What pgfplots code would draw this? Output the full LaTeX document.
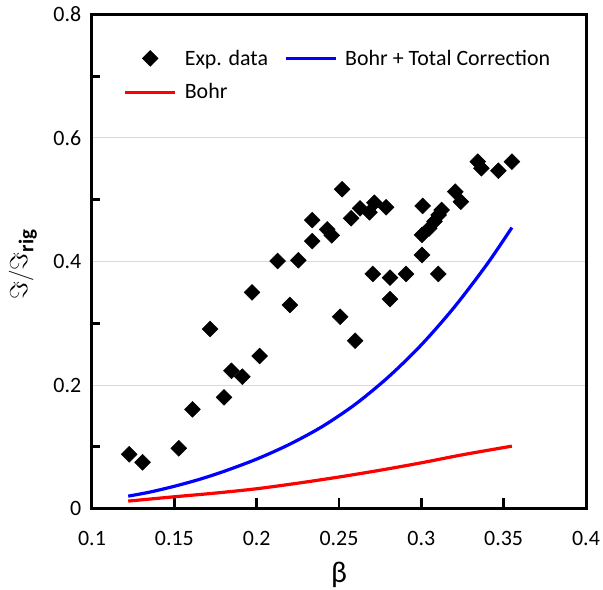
\documentclass[border=0pt]{standalone}
\usepackage{amsmath}
\usepackage{fontspec}
\setmainfont{Carlito}
\usepackage{pgfplots}
\pgfplotsset{compat=1.18}
\usetikzlibrary{calc}
\definecolor{gridgray}{RGB}{217,217,217}
\begin{document}
\begin{tikzpicture}
\begin{axis}[
  line width=3bp,
  scale only axis, width=494bp, height=494bp,
  xmin=0.1, xmax=0.4, ymin=0, ymax=0.8,
  xtick={0.1,0.15,0.2,0.25,0.3,0.35,0.4},
  xticklabels={0.1,0.15,0.2,0.25,0.3,0.35,0.4},
  ytick={0,0.2,0.4,0.6,0.8},
  yticklabels={0,0.2,0.4,0.6,0.8},
  minor ytick={0.1,0.3,0.5,0.7},
  ymajorgrids,
  major grid style={draw=gridgray, line width=1bp},
  axis line style={line width=3bp, line cap=rect},
  tick style={black, line width=2.8bp},
  major y tick style={draw=none},
  tick align=inside,
  xtick pos=bottom, ytick pos=left,
  major tick length=11bp, minor tick length=8bp,
  /pgf/number format/assume math mode=true,
  ticklabel style={font=\fontsize{22}{26}\selectfont},
  xticklabel style={yshift=-18bp},
  yticklabel style={xshift=-6bp},
  xlabel={β},
  ylabel={$\Im/\Im_{\text{\bfseries rig}}$},
  xlabel style={at={(axis description cs:0.5,-0.1336)}, anchor=center, font=\fontsize{30}{34}\selectfont},
  ylabel style={at={(axis description cs:-0.14,0.494)}, anchor=center, font=\fontsize{30}{34}\selectfont},
  legend columns=2,
  legend cell align=left,
  legend image code/.code={\draw[mark repeat=2,mark phase=2,#1] plot coordinates {(0bp,0bp) (25bp,0bp) (50bp,0bp)};},
  legend style={draw=none, fill=none, inner sep=0pt, outer sep=0pt,
    at={(axis description cs:0.064,0.932)}, anchor=north west,
    font=\fontsize{22}{26}\selectfont, row sep=13bp,
    /tikz/every odd column/.append style={column sep=6bp},
    /tikz/every even column/.append style={column sep=14bp}},
]
\addplot[only marks, mark=square*, mark size=5.6bp, mark options={rotate=45, fill=black, draw=black, line width=0.5bp}] coordinates {
(0.1226,0.0878) (0.1307,0.0748) (0.1527,0.0975) (0.1610,0.1606) (0.1717,0.2907)
(0.1802,0.1800) (0.1847,0.2230) (0.1913,0.2135) (0.1972,0.3500) (0.2018,0.2470)
(0.2127,0.4008) (0.2202,0.3296) (0.2253,0.4020) (0.2337,0.4670) (0.2337,0.4330)
(0.2428,0.4520) (0.2456,0.4424) (0.2507,0.3106) (0.2519,0.5170) (0.2574,0.4700)
(0.2598,0.2718) (0.2628,0.4860) (0.2685,0.4797) (0.2705,0.3798) (0.2715,0.4952)
(0.2786,0.4878) (0.2810,0.3738) (0.2810,0.3390) (0.2907,0.3798) (0.3004,0.4105)
(0.3004,0.4430) (0.3008,0.4900) (0.3048,0.4537) (0.3080,0.4650) (0.3103,0.3798)
(0.3105,0.4753) (0.3123,0.4834) (0.3206,0.5130) (0.3240,0.4968) (0.3343,0.5617)
(0.3365,0.5510) (0.3468,0.5470) (0.3550,0.5617)
};
\addlegendentry{Exp. data}
\addplot[blue, line width=3.2bp, smooth] coordinates {
(0.122,0.020) (0.135,0.0265) (0.150,0.036) (0.165,0.047) (0.180,0.060)
(0.200,0.080) (0.220,0.104) (0.240,0.133) (0.260,0.169) (0.280,0.213)
(0.300,0.265) (0.320,0.326) (0.340,0.396) (0.355,0.455)
};
\addlegendentry{Bohr + Total Correction}
\addplot[red, line width=3.2bp, smooth] coordinates {
(0.122,0.012) (0.150,0.019) (0.175,0.025) (0.200,0.032) (0.225,0.041)
(0.250,0.051) (0.275,0.062) (0.300,0.074) (0.325,0.087) (0.355,0.101)
};
\addlegendentry{Bohr}
\end{axis}
\pgfresetboundingbox
\path[use as bounding box] ($(current axis.south west)+(-92bp,-81.5bp)$) rectangle ($(current axis.north east)+(17bp,14.5bp)$);
\end{tikzpicture}
\end{document}
